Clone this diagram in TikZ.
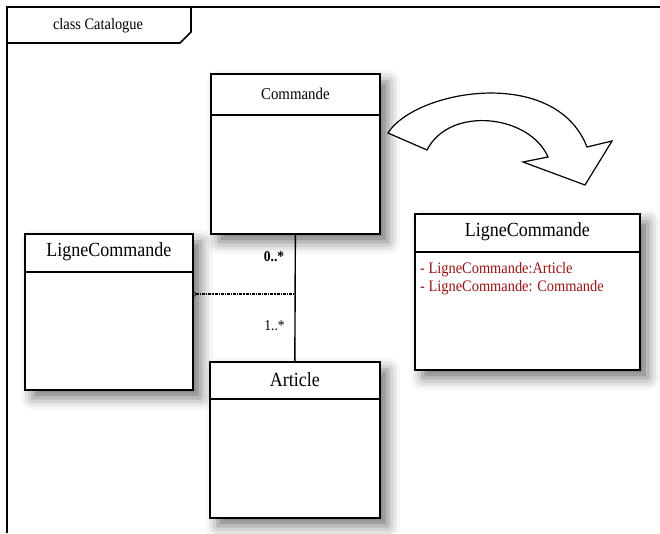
\documentclass[tikz,border=0pt]{standalone}
\usepackage{fontspec}
\setmainfont{Liberation Serif}[FakeStretch=0.9]
\usetikzlibrary{positioning, arrows.meta, shadows.blur}

\definecolor{attrred}{RGB}{150,20,20}

\tikzset{
  umlbox/.style={draw, line width=1.7pt, fill=white, anchor=north west, inner sep=0pt,
    blur shadow={shadow xshift=8pt, shadow yshift=-8pt, shadow blur radius=12pt, shadow opacity=55}},
  bigname/.style={font=\fontsize{20}{22}\selectfont},
  smallname/.style={font=\fontsize{16.5}{18}\selectfont},
  mult/.style={font=\fontsize{15}{17}\selectfont, anchor=east, inner sep=0pt},
  attr/.style={font=\fontsize{16}{18}\selectfont, text=attrred, align=left, anchor=north west, inner sep=0pt},
  link/.style={line width=1.4pt},
  divider/.style={line width=1.4pt},
}

\begin{document}
\begin{tikzpicture}[x=1pt, y=-1pt]
  \useasboundingbox (0,0) rectangle (660,533);

  % frame and title tab
  \draw[line width=2.2pt] (7,533) -- (7,7) -- (660,7);
  \draw[line width=1.6pt] (191,7) -- (191,32) -- (180,43) -- (7,43);
  \node[font=\fontsize{16}{18}\selectfont] (title) at (98,26) {class Catalogue};

  % classes
  \node[umlbox, minimum width=169pt, minimum height=160pt] (cmd) at (210,73) {};
  \draw[divider] ([yshift=-42pt]cmd.north west) -- ([yshift=-42pt]cmd.north east);
  \node[smallname] (cmdname) at ([yshift=-21pt]cmd.north) {Commande};

  \node[umlbox, minimum width=168pt, minimum height=156pt] (lcl) at (24,233) {};
  \draw[divider] ([yshift=-39pt]lcl.north west) -- ([yshift=-39pt]lcl.north east);
  \node[bigname] (lclname) at ([yshift=-19pt]lcl.north) {LigneCommande};

  \node[umlbox, minimum width=170pt, minimum height=156pt] (art) at (209,361) {};
  \draw[divider] ([yshift=-38pt]art.north west) -- ([yshift=-38pt]art.north east);
  \node[bigname] (artname) at ([yshift=-19pt]art.north) {Article};

  \node[umlbox, minimum width=225pt, minimum height=156pt] (lcr) at (414,213) {};
  \draw[divider] ([yshift=-39pt]lcr.north west) -- ([yshift=-39pt]lcr.north east);
  \node[bigname] (lcrname) at ([yshift=-19pt]lcr.north) {LigneCommande};
  \node[attr] (lcrattr) at ([xshift=6pt, yshift=-49pt]lcr.north west)
    {- LigneCommande:Article\\- LigneCommande: Commande};

  % association and its class
  \draw[link] (cmd.south) -- coordinate[pos=0.47] (mid) (art.north);
  \draw[line width=2.6pt, dash pattern=on 3pt off 1pt on 1.2pt off 1pt,
        {Straight Barb[reversed, length=2pt, width=5pt, line width=0.6pt]}-]
    (lcl.east |- mid) -- (mid);
  \node[mult] (m0) at ([xshift=-11pt, yshift=-22pt]cmd.south) {\textbf{0..*}};
  \node[mult] (m1) at ([xshift=-10pt, yshift=35pt]art.north) {1..*};

  % curved block arrow
  \draw[line width=1.2pt, fill=white] (388,133) .. controls (415,90) and (555,65) .. (587,147)
    -- (612,141) -- (585,185) -- (523,162) -- (548,157)
    .. controls (530,115) and (450,105) .. (427,150) -- cycle;
\end{tikzpicture}
\end{document}
